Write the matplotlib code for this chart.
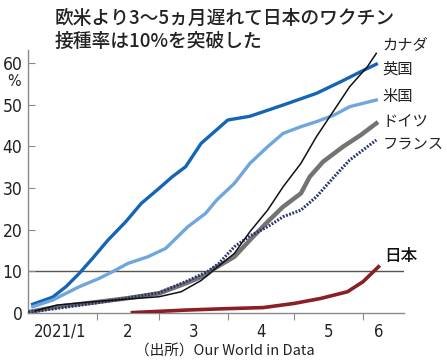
import matplotlib
matplotlib.use("Agg")
import matplotlib.pyplot as plt

plt.rcParams["font.family"] = ["Noto Sans CJK JP", "DejaVu Sans"]

# day number counted from 2021-01-01, value = % of population with at least one dose
uk_days = [2, 11, 17, 23, 29, 36, 44, 51, 59, 65, 71, 78, 84, 90, 100, 115, 130, 141, 150, 157]
uk_vals = [2.1, 3.8, 6.3, 9.5, 13.1, 17.5, 21.9, 26.3, 29.9, 32.7, 35.1, 40.7, 43.5, 46.3,
           47.2, 49.9, 52.7, 55.5, 57.9, 59.7]

us_days = [2, 11, 23, 32, 38, 45, 54, 62, 72, 80, 85, 93, 100, 108, 115, 123, 130, 138, 145, 157]
us_vals = [1.5, 3.1, 6.3, 8.3, 9.9, 11.9, 13.5, 15.5, 20.7, 23.9, 27.1, 31.1, 35.9, 39.9,
           43.1, 44.7, 45.9, 47.5, 49.5, 51.1]

ca_days = [3, 13, 29, 44, 59, 69, 78, 83, 93, 100, 108, 115, 123, 130, 138, 145, 153, 157]
ca_vals = [0.5, 1.9, 2.7, 3.3, 3.9, 5.1, 7.8, 10.0, 14.3, 19.5, 24.7, 30.3, 35.9, 42.3,
           48.7, 54.3, 59.1, 62.3]

de_days = [1, 13, 29, 44, 59, 71, 80, 84, 93, 100, 108, 115, 123, 127, 133, 142, 150, 157]
de_vals = [0.3, 1.5, 2.5, 3.5, 4.7, 7.1, 9.1, 10.7, 13.5, 17.5, 21.9, 25.5, 28.7, 32.7,
           36.3, 39.9, 42.7, 45.5]

fr_days = [0, 13, 29, 44, 59, 71, 81, 86, 93, 100, 108, 115, 123, 130, 138, 145, 157]
fr_vals = [0.2, 1.1, 2.3, 3.5, 4.9, 7.5, 10.0, 11.9, 15.9, 18.5, 20.7, 23.1, 24.7, 27.9,
           32.7, 36.7, 41.5]

jp_days = [47, 59, 71, 87, 106, 120, 132, 144, 151, 158]
jp_vals = [0.1, 0.4, 0.7, 1.0, 1.3, 2.3, 3.5, 5.1, 7.5, 11.1]

month_starts = [31, 59, 90, 120, 151]
month_mids = [14.5, 45, 74.5, 105, 135.5, 158]
month_labels = ["2021/1", "2", "3", "4", "5", "6"]
y_ticks = [0, 10, 20, 30, 40, 50, 60]

labels = ["カナダ", "英国", "米国", "ドイツ", "フランス", "日本"]
label_y = [64.3, 58.6, 52.0, 45.9, 40.4, 13.6]

fig = plt.figure(figsize=(4.47, 3.64), dpi=100)
ax = fig.add_axes([28 / 447, 1 - 313 / 364, 376 / 447, 263 / 364])

ax.axhline(10, color="#555555", lw=1.0, zorder=1)
ax.plot(uk_days, uk_vals, color="#1565b5", lw=2.4, zorder=3)
ax.plot(us_days, us_vals, color="#6fa6dc", lw=2.4, zorder=3)
ax.plot(de_days, de_vals, color="#737373", lw=3.2, zorder=3)
ax.plot(fr_days, fr_vals, color="#2c336e", lw=2.2, ls=(0, (0.6, 0.5)), zorder=4)
ax.plot(ca_days, ca_vals, color="#111111", lw=1.1, zorder=5)
ax.plot(jp_days, jp_vals, color="#8a1f25", lw=2.6, zorder=3)

ax.set_xlim(-0.1, 169.5)
ax.set_ylim(0, 63.1)

for s in ["top", "right"]:
    ax.spines[s].set_visible(False)
for s in ["left", "bottom"]:
    ax.spines[s].set_color("#8a8a8a")
    ax.spines[s].set_linewidth(1.0)

num_font = dict(family="DejaVu Sans", fontstretch="condensed", color="#222222")
ax.set_yticks(y_ticks)
ax.set_yticklabels([str(v) for v in y_ticks], fontsize=12.5, **num_font)
ax.tick_params(axis="y", direction="in", length=5, color="#8a8a8a", pad=4)

ax.set_xticks(month_starts)
ax.set_xticklabels([])
ax.set_xticks(month_mids, minor=True)
ax.set_xticklabels(month_labels, minor=True, fontsize=12, **num_font)
ax.tick_params(axis="x", which="major", direction="out", length=5, color="#8a8a8a")
ax.tick_params(axis="x", which="minor", length=0, pad=7)

fig.text(14 / 447, 1 - 81 / 364, "%", ha="center", va="center", fontsize=11.5, **num_font)

for name, yv in zip(labels, label_y):
    big = name == "日本"
    ax.text(160.5 if big else 159.8, yv, name, ha="left", va="center",
            fontsize=12 if big else 11, color="#111111" if big else "#222222",
            fontweight="medium" if big else "normal", clip_on=False)

fig.text(55 / 447, 1 - 18 / 364, "欧米より3～5ヵ月遅れて日本のワクチン", ha="left", va="center",
         fontsize=13.5, fontweight="medium", color="#222222")
fig.text(55 / 447, 1 - 41 / 364, "接種率は10%を突破した", ha="left", va="center",
         fontsize=13.5, fontweight="medium", color="#222222")
fig.text(225 / 447, 1 - 352 / 364, "（出所）Our World in Data", ha="center", va="center",
         fontsize=10.5, color="#222222")

fig.savefig("out.png", dpi=100)
